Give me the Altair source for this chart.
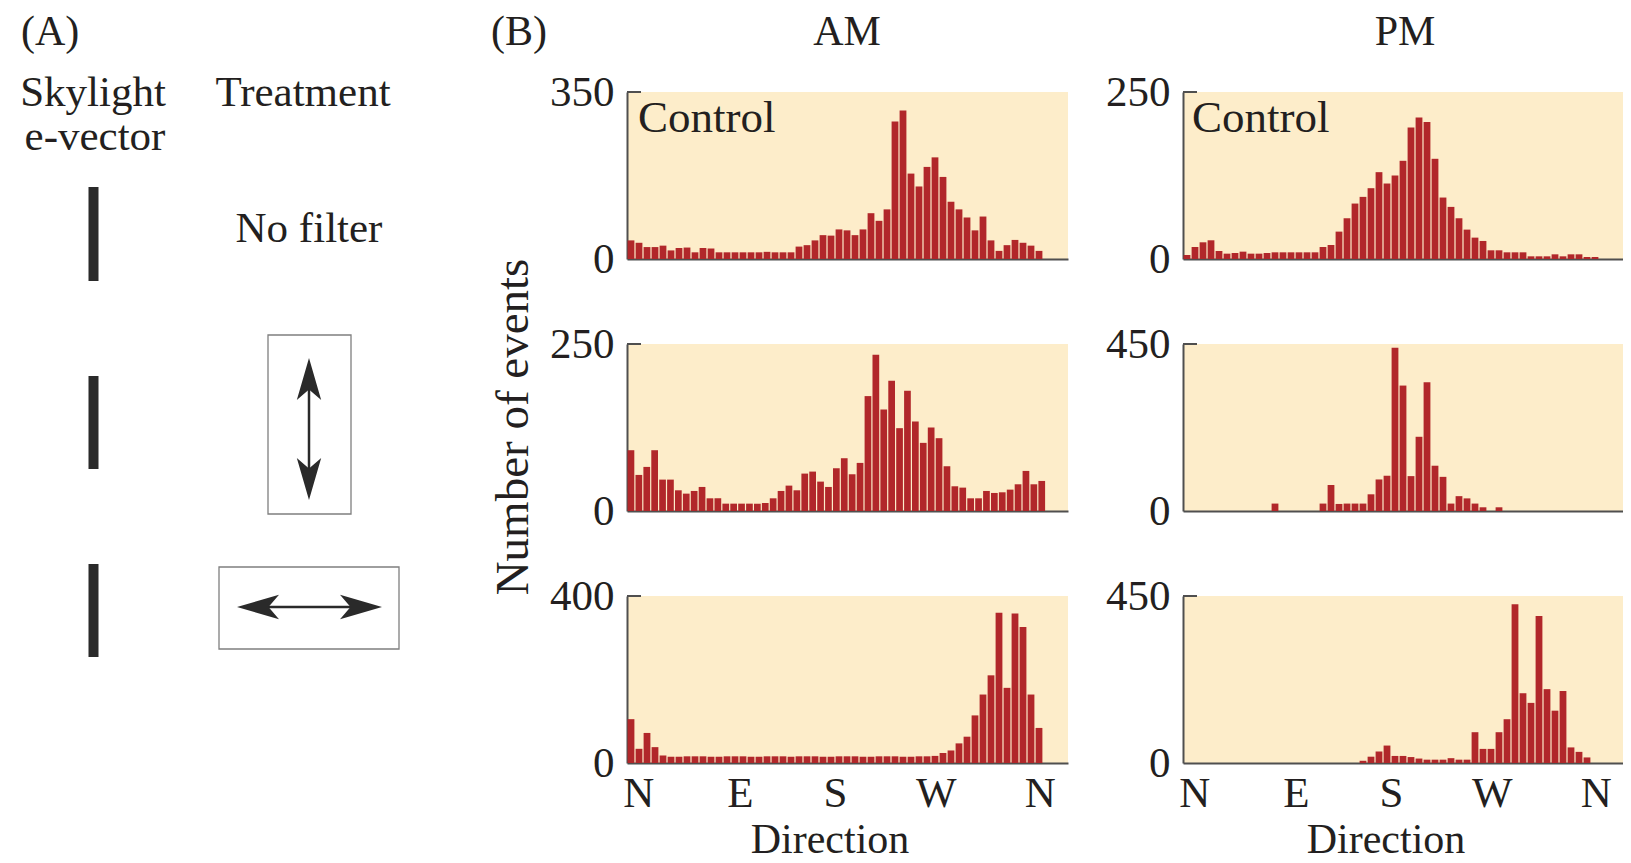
import altair as alt
import pandas as pd

FONT = "Liberation Serif"
TXT = "#231f20"
CREAM = "#fdedca"
RED = "#b1272a"
AXC = "#4f4f4f"
FS = 43

# ---------------- data (B) ----------------
dir_labels = ["N", "E", "S", "W", "N"]
dir_pos = [1.4, 14.1, 26.0, 38.6, 51.6]

am_control = [39, 34, 25, 25, 28, 18, 23, 24, 14, 23, 22, 14, 14, 14, 14, 14, 14, 15, 14, 14,
              14, 26, 29, 39, 50, 49, 62, 60, 50, 62, 96, 80, 104, 288, 311, 179, 152, 193, 213, 172,
              120, 104, 87, 60, 89, 39, 17, 29, 40, 34, 28, 17]
pm_control = [6, 18, 25, 28, 12, 8, 9, 11, 8, 8, 9, 10, 10, 10, 10, 10, 10, 18, 21, 41,
              61, 83, 93, 106, 130, 113, 125, 147, 197, 212, 205, 150, 92, 78, 61, 44, 32, 27, 13, 13,
              10, 10, 10, 4, 4, 4, 7, 4, 7, 7, 3, 3]
am_vertical = [91, 54, 66, 91, 47, 47, 31, 26, 30, 36, 19, 19, 11, 11, 11, 11, 11, 12, 19, 30,
               38, 31, 56, 59, 44, 36, 64, 79, 55, 72, 172, 234, 152, 195, 124, 180, 134, 102, 125, 109,
               67, 37, 35, 19, 19, 30, 27, 28, 32, 40, 60, 40, 45]
pm_vertical = [0, 0, 0, 0, 0, 0, 0, 0, 0, 0, 0, 20, 0, 0, 0, 0, 0, 20, 70, 19,
               20, 20, 20, 45, 85, 95, 440, 338, 94, 200, 347, 122, 92, 20, 40, 34, 20, 10, 0, 10,
               0, 0, 0, 0, 0, 0, 0, 0, 0, 0, 0, 0]
am_horizontal = [105, 34, 72, 38, 18, 15, 15, 16, 16, 16, 15, 15, 16, 16, 16, 15, 15, 16, 16, 16,
                 15, 16, 16, 16, 15, 15, 16, 16, 16, 15, 15, 16, 16, 16, 15, 15, 16, 16, 17, 24,
                 30, 47, 63, 114, 164, 210, 360, 180, 358, 326, 164, 84]
pm_horizontal = [0, 0, 0, 0, 0, 0, 0, 0, 0, 0, 0, 0, 0, 0, 0, 0, 0, 0, 0, 0,
                 0, 0, 6, 17, 31, 47, 19, 19, 16, 12, 9, 9, 9, 13, 9, 9, 83, 38, 38, 83,
                 118, 428, 188, 162, 396, 199, 141, 194, 42, 30, 15, 0]
y_tops = [350, 250, 250, 450, 400, 450]

# ---------------- schematic (A) ----------------
a_left_text = ["(A)", "(B)"]
a_left_x = [21, 491]
a_left_y = [46, 46]
a_center_text = ["Skylight", "e-vector", "Treatment", "No filter"]
a_center_x = [93, 95, 303, 309]
a_center_y = [107, 151, 107, 243]
evec_y0 = [188, 377, 565]
evec_y1 = [282, 470, 658]
box_x0 = [268, 219]
box_x1 = [351, 399]
box_y0 = [336, 568]
box_y1 = [515, 650]
shaft_x = [309, 258]
shaft_x2 = [309, 361]
shaft_y = [380, 608]
shaft_y2 = [480, 608]
head_x = [309, 309, 258, 361]
head_y = [380, 480, 608, 608]
head_dir = ["up", "down", "left", "right"]

AMW, PMW, PH = 441, 440, 167
AW = 504

sx = alt.Scale(domain=[8, 8 + AW], nice=False, zero=False)
sy = alt.Scale(domain=[93, 93 + PH], nice=False, zero=False, reverse=True)


def xq(f):
    return alt.X(f, type="quantitative", scale=sx, axis=None)


def yq(f):
    return alt.Y(f, type="quantitative", scale=sy, axis=None)


txt_left = alt.Chart(pd.DataFrame({"t": a_left_text, "x": a_left_x, "y": a_left_y})).mark_text(
    font=FONT, fontSize=42, color=TXT, align="left", baseline="alphabetic"
).encode(x=xq("x"), y=yq("y"), text="t:N")
txt_center = alt.Chart(pd.DataFrame({"t": a_center_text, "x": a_center_x, "y": a_center_y})).mark_text(
    font=FONT, fontSize=FS, color=TXT, align="center", baseline="alphabetic"
).encode(x=xq("x"), y=yq("y"), text="t:N")
evec = alt.Chart(pd.DataFrame({"y0": evec_y0, "y1": evec_y1})).transform_calculate(
    x0="88.5", x1="98.5"
).mark_rect(color="#2a2a2a").encode(x=xq("x0"), x2="x1:Q", y=yq("y0"), y2="y1:Q")
boxes = alt.Chart(pd.DataFrame({"x0": box_x0, "x1": box_x1, "y0": box_y0, "y1": box_y1})).mark_rect(
    fillOpacity=0, stroke="#7f7f7f", strokeWidth=1.3
).encode(x=xq("x0"), x2="x1:Q", y=yq("y0"), y2="y1:Q")
shafts = alt.Chart(pd.DataFrame({"x": shaft_x, "x2": shaft_x2, "y": shaft_y, "y2": shaft_y2})).mark_rule(
    color="#2a2a2a", strokeWidth=2.5
).encode(x=xq("x"), x2="x2:Q", y=yq("y"), y2="y2:Q")
heads = alt.Chart(pd.DataFrame({"x": head_x, "y": head_y, "d": head_dir})).mark_point(
    filled=True, size=1764, opacity=1, color="#2a2a2a"
).encode(
    x=xq("x"), y=yq("y"),
    shape=alt.Shape("d:N", legend=None, scale=alt.Scale(
        domain=["up", "down", "left", "right"],
        range=["M0,-1L0.58,1L0,0.5L-0.58,1Z", "M0,1L0.58,-1L0,-0.5L-0.58,-1Z",
               "M-1,0L1,-0.58L0.5,0L1,0.58Z", "M1,0L-1,-0.58L-0.5,0L-1,0.58Z"]))
)
panel_a = alt.layer(txt_left, txt_center, evec, boxes, shafts, heads).properties(
    width=AW, height=PH, view=alt.ViewBackground(stroke=None))


def placeholder():
    return alt.Chart(pd.DataFrame({"a": [0]})).mark_point(opacity=0).encode(
        x=alt.X("a:Q", axis=None), y=alt.Y("a:Q", axis=None)
    ).properties(width=AW, height=PH, view=alt.ViewBackground(stroke=None))


def label_expr(pos, labels):
    expr = f"'{labels[-1]}'"
    for i in range(len(pos) - 2, -1, -1):
        mid = (pos[i] + pos[i + 1]) / 2
        expr = f"datum.value < {mid} ? '{labels[i]}' : ({expr})"
    return expr


def panel(values, ymax, bottom, extras, width, pitch=8.0):
    df = pd.DataFrame({"bin": list(range(len(values))), "count": values})
    if bottom:
        xaxis = alt.Axis(values=dir_pos, labelExpr=label_expr(dir_pos, dir_labels), ticks=False, grid=False,
                         domain=True, domainColor=AXC, domainWidth=2, labelFont=FONT, labelFontSize=FS,
                         labelColor=TXT, labelPadding=9, labelFlush=False)
    else:
        xaxis = alt.Axis(labels=False, ticks=False, grid=False, domain=True, domainColor=AXC, domainWidth=2)
    yaxis = alt.Axis(values=[0, ymax], format="d", ticks=False, grid=False, domain=True, domainColor=AXC,
                     domainWidth=2, labelFont=FONT, labelFontSize=FS, labelColor=TXT, labelPadding=13,
                     labelFlush=False, labelBaseline="middle")
    bars = alt.Chart(df).transform_calculate(
        x0="datum.bin + 0.075", x1="datum.bin + 0.925"
    ).mark_bar(color=RED).encode(
        x=alt.X("x0:Q", scale=alt.Scale(domain=[0, width / pitch], nice=False, zero=False), axis=xaxis, title=None),
        x2="x1:Q",
        y=alt.Y("count:Q", scale=alt.Scale(domain=[0, ymax], nice=False), axis=yaxis, title=None),
        y2=alt.Y2(datum=0),
    )
    one = pd.DataFrame({"a": [0]})
    tick = alt.Chart(one).mark_rule(color=AXC, strokeWidth=2).encode(
        x=alt.value(0), x2=alt.value(14), y=alt.value(0))
    layers = [bars, tick]
    for (text, px, py, size, angle) in extras:
        kw = dict(font=FONT, fontSize=size, color=TXT, baseline="alphabetic", text=text)
        if angle:
            kw["angle"] = angle
            kw["align"] = "center"
        elif text == "Control":
            kw["align"] = "left"
        else:
            kw["align"] = "center"
        layers.append(alt.Chart(one).mark_text(**kw).encode(x=alt.value(px), y=alt.value(py)))
    return alt.layer(*layers).properties(width=width, height=PH, view=alt.ViewBackground(fill=CREAM, stroke=None))


am1 = panel(am_control, y_tops[0], False, [("Control", 11, 40, 45, 0), ("AM", 220, -47, 42, 0)], AMW)
pm1 = panel(pm_control, y_tops[1], False, [("Control", 9, 40, 45, 0), ("PM", 222, -47, 42, 0)], PMW)
am2 = panel(am_vertical, y_tops[2], False, [("Number of events", -99, 83, 47, 270)], AMW, pitch=7.9)
pm2 = panel(pm_vertical, y_tops[3], False, [], PMW)
am3 = panel(am_horizontal, y_tops[4], True, [("Direction", 203, PH + 90, 42, 0)], AMW)
pm3 = panel(pm_horizontal, y_tops[5], True, [("Direction", 203, PH + 90, 42, 0)], PMW)

chart = alt.concat(
    panel_a, am1, pm1,
    placeholder(), am2, pm2,
    placeholder(), am3, pm3,
    columns=3, spacing={"row": 85, "column": 115}, bounds="flush", align="each",
).properties(padding={"top": 3, "left": 0, "right": 0, "bottom": 0}, background="white").configure_view(stroke=None)

chart.save("out.html", embed_options={"renderer": "svg", "actions": False})
